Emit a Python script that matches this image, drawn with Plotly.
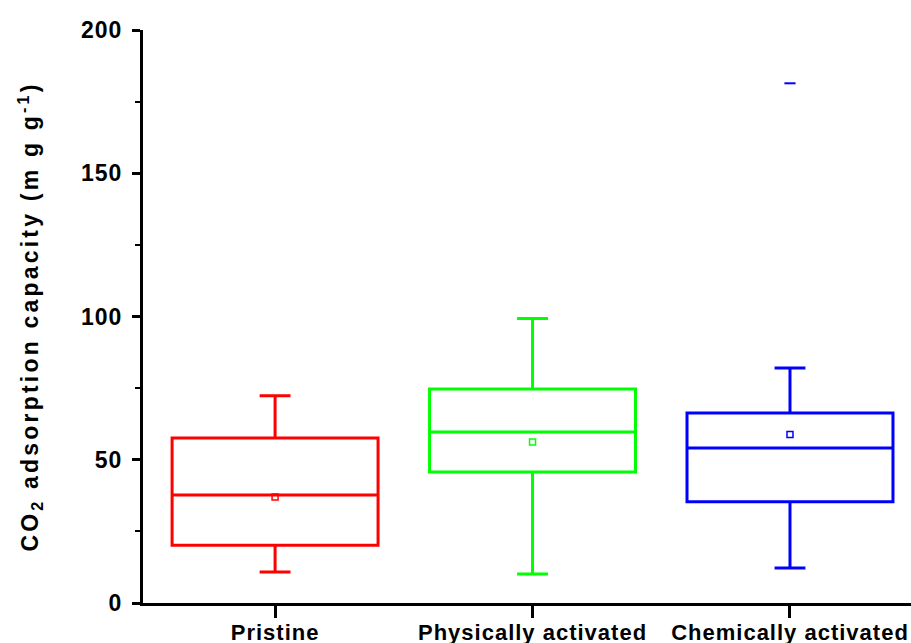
import plotly.graph_objects as go

categories = ["Pristine", "Physically activated", "Chemically activated"]
colors = ["#ff0000", "#00ff00", "#0000ff"]
q1 = [20.2, 45.7, 35.3]
median = [37.7, 59.7, 54.1]
q3 = [57.6, 74.7, 66.3]
lower = [10.8, 10.1, 12.2]
upper = [72.3, 99.3, 82.0]
means = [37.0, 56.2, 58.8]
outlier_cat = [2]
outlier_val = [181.4]
yticks = [0, 50, 100, 150, 200]

FONT = "Liberation Sans"
fig = go.Figure()
for i, c in enumerate(categories):
    fig.add_trace(go.Box(
        x=[i], q1=[q1[i]], median=[median[i]], q3=[q3[i]],
        lowerfence=[lower[i]], upperfence=[upper[i]],
        width=0.8, whiskerwidth=0.15,
        line=dict(color=colors[i], width=3),
        fillcolor="rgba(0,0,0,0)", boxpoints=False, showlegend=False,
        hoverinfo="skip",
    ))
    fig.add_trace(go.Scatter(
        x=[i], y=[means[i]], mode="markers",
        marker=dict(symbol="square-open", size=6, color=colors[i], line=dict(width=1.5, color=colors[i])),
        showlegend=False, hoverinfo="skip",
    ))
fig.add_trace(go.Scatter(
    x=outlier_cat, y=outlier_val, mode="markers",
    marker=dict(symbol="line-ew", size=8, line=dict(width=2, color=colors[2])),
    showlegend=False, hoverinfo="skip",
))

def spaced(t, px):
    return f'<span style="letter-spacing:{px}px">{t}</span>'

fig.update_layout(
    width=911, height=643,
    margin=dict(l=143, r=0, t=30, b=40),
    plot_bgcolor="white", paper_bgcolor="white",
    font=dict(family=FONT, color="black"),
    xaxis=dict(
        range=[-0.513, 2.47], tickvals=[0, 1, 2],
        ticktext=[f"<b>{spaced(c, 1)}</b>" for c in categories],
        showline=True, linecolor="black", linewidth=3,
        ticks="outside", ticklen=12, tickwidth=3, tickcolor="black",
        ticklabelstandoff=-4,
        showgrid=False, zeroline=False, automargin=False,
        tickfont=dict(family=FONT, size=22, color="black"),
    ),
    yaxis=dict(
        range=[0, 200], tickvals=yticks,
        ticktext=[f"<b>{spaced(v, 1)}</b>" for v in yticks],
        showline=True, linecolor="black", linewidth=3,
        ticks="outside", ticklen=8, tickwidth=3, tickcolor="black",
        ticklabelstandoff=5,
        minor=dict(ticks="outside", ticklen=5, tickwidth=2, tickcolor="black", dtick=25, showgrid=False),
        showgrid=False, zeroline=False, automargin=False,
        tickfont=dict(family=FONT, size=23, color="black"),
        title=dict(
            text="<b>" + spaced("CO<sub>2</sub> adsorption capacity (m g g<sup>-1</sup>)", 3.2) + "</b>",
            font=dict(family=FONT, size=23, color="black"), standoff=36,
        ),
    ),
)
fig.write_html(
    "out.html",
    config={"displayModeBar": False},
    post_script="document.body.style.margin='0';document.body.style.padding='0';",
)
